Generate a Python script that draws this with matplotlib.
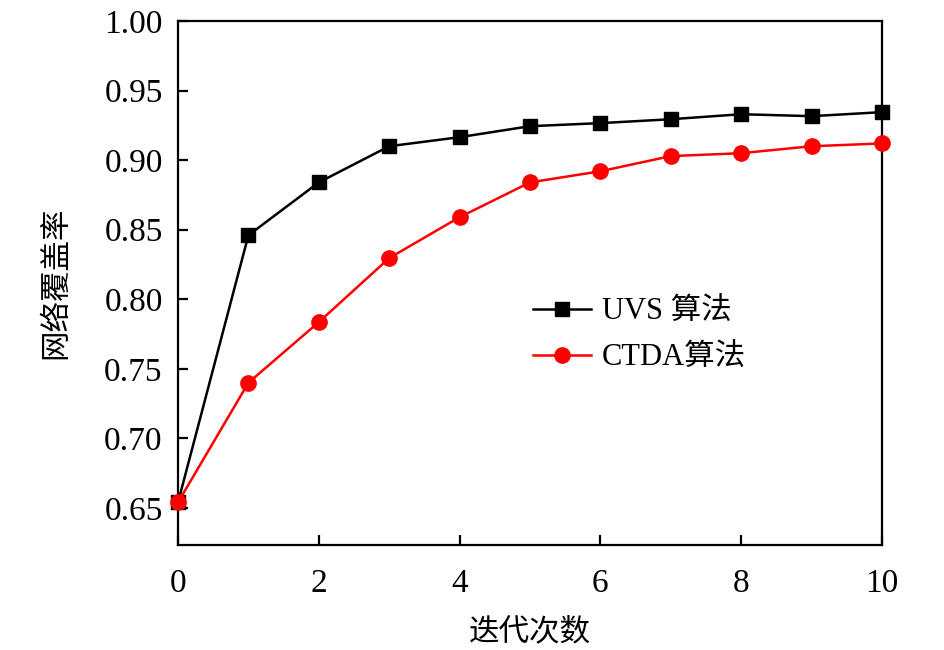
import numpy as np
import matplotlib
matplotlib.use("Agg")
import matplotlib.pyplot as plt

plt.rcParams['font.family'] = ['Liberation Serif', 'Noto Sans CJK SC']
plt.rcParams['axes.unicode_minus'] = False

iters = [0, 1, 2, 3, 4, 5, 6, 7, 8, 9, 10]
uvs = [0.654, 0.846, 0.884, 0.910, 0.9165, 0.9244, 0.9266, 0.9294, 0.933, 0.9316, 0.9345]
ctda = [0.654, 0.740, 0.7836, 0.8296, 0.859, 0.884, 0.892, 0.9029, 0.905, 0.910, 0.912]

fig = plt.figure(figsize=(9.45, 6.5), dpi=100)
ax = fig.add_axes([178/945, 1-545/650, 704/945, 524/650])

ax.plot(iters, uvs, color='black', marker='s', markersize=10, lw=1.8, label='UVS 算法', clip_on=False, zorder=3)
ax.plot(iters, ctda, color='red', marker='o', markersize=11, lw=1.8, label='CTDA算法', clip_on=False, zorder=4)

ax.set_xlim(0, 10)
ax.set_ylim(0.6234, 1.0)
ax.set_xticks([0, 2, 4, 6, 8, 10])
ax.set_yticks(np.arange(0.65, 1.001, 0.05))
ax.set_yticklabels(['%.2f' % v for v in np.arange(0.65, 1.001, 0.05)])
ax.tick_params(direction='in', length=7, width=1.6, labelsize=24)
ax.tick_params(axis='x', pad=17)
ax.tick_params(axis='y', pad=11)
for s in ax.spines.values():
    s.set_linewidth(1.6)

ax.set_xlabel('迭代次数', fontsize=22, labelpad=14)
ax.set_ylabel('网络覆盖率', fontsize=22, labelpad=24)

ax.legend(loc='upper left', bbox_to_anchor=(0.504, 0.472), frameon=False, fontsize=22,
          handlelength=1.9, labelspacing=0.55, handletextpad=0.35,
          borderpad=0, borderaxespad=0)

fig.savefig('out.png', dpi=100)
